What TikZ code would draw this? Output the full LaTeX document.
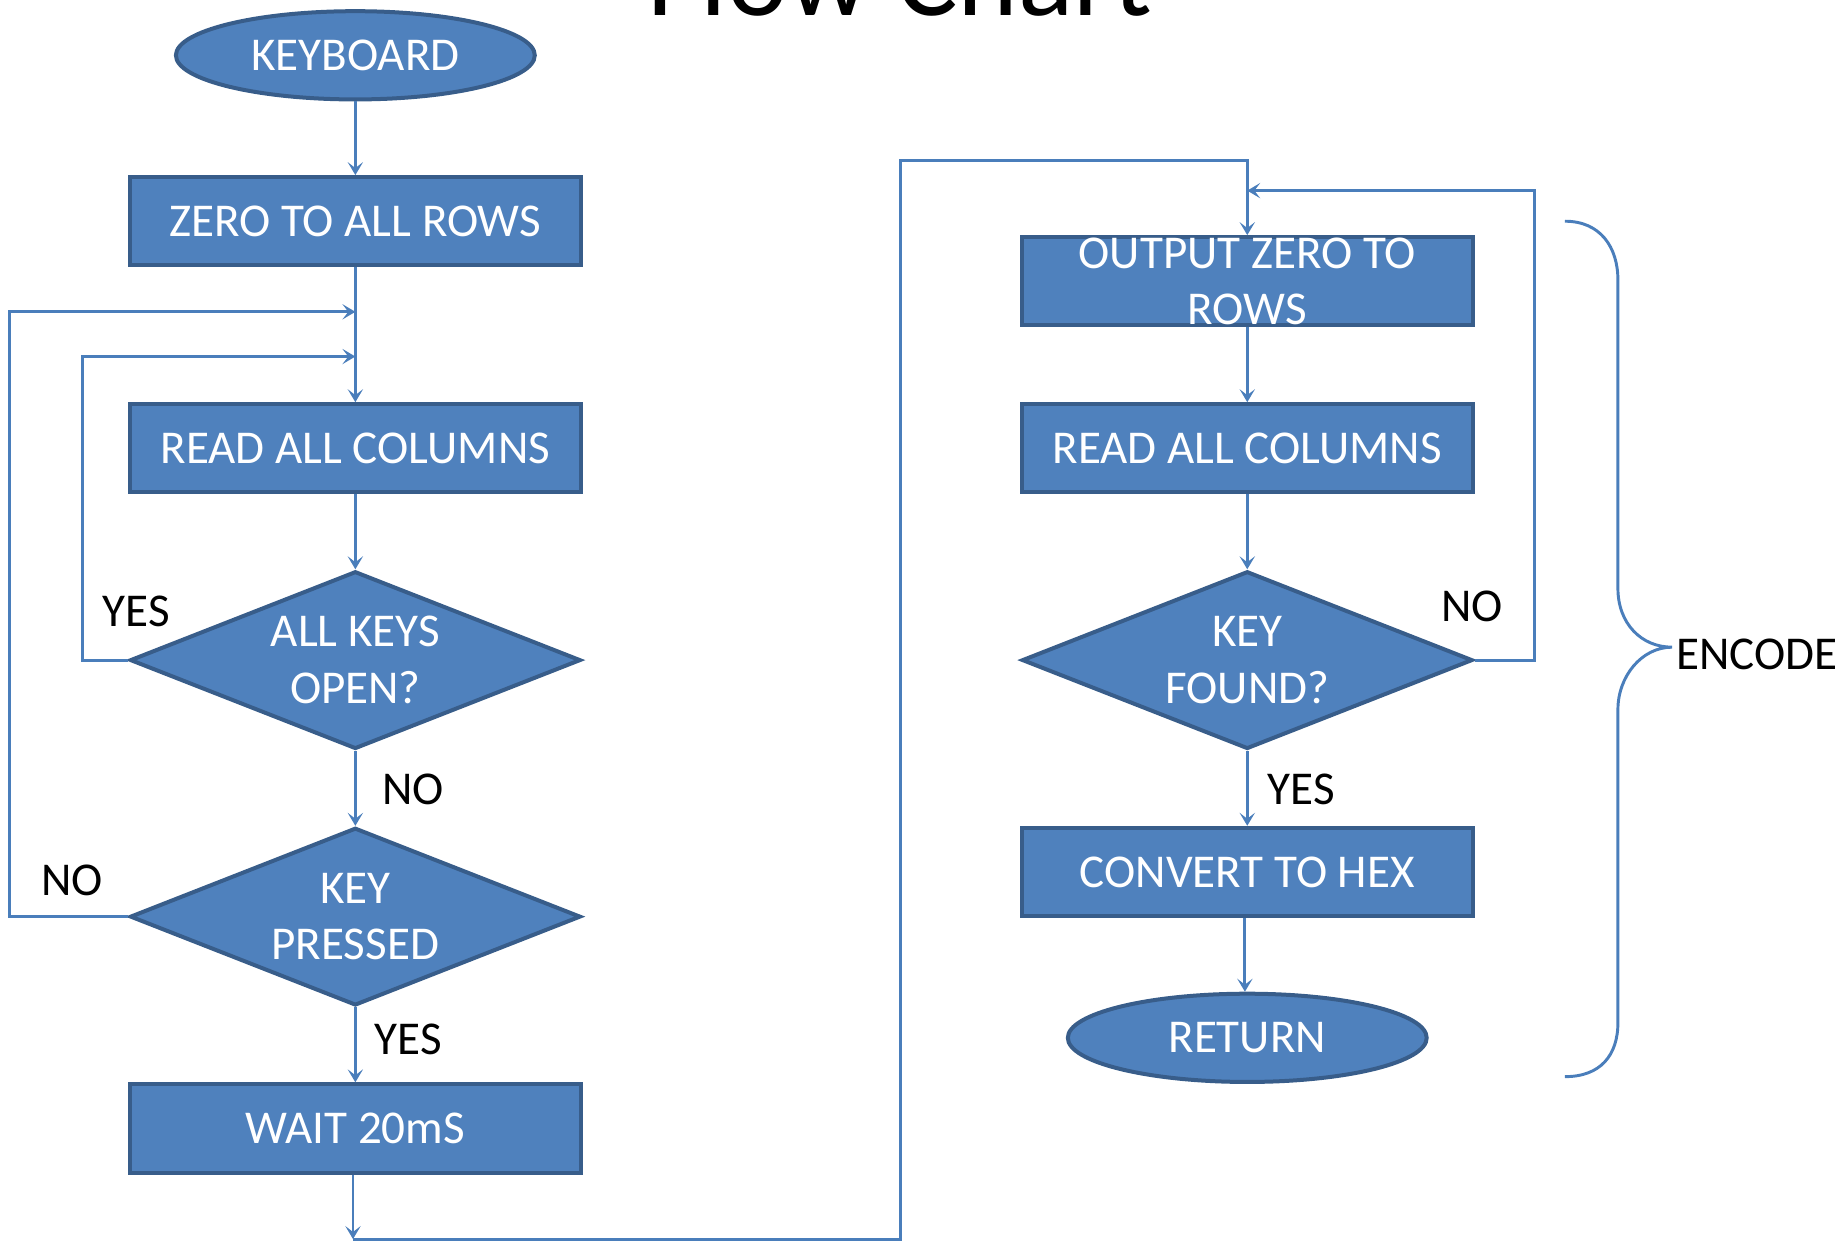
\documentclass[tikz,border=0pt]{standalone}
\usepackage{fontspec}
\setmainfont{Carlito}
\usetikzlibrary{shapes.geometric,arrows.meta}
\definecolor{boxfill}{HTML}{4F81BD}
\definecolor{boxedge}{HTML}{385D8A}
\definecolor{wire}{HTML}{4A7EBB}

\begin{document}
\begin{tikzpicture}[x=0.5pt,y=-0.5pt,
  shapebase/.style={fill=boxfill, draw=boxedge, line width=1.7pt, text=white,
    font=\fontsize{20}{24}\selectfont, inner sep=0pt, align=center},
  procbox/.style={shapebase, rectangle, minimum width=191.5pt, minimum height=37.5pt},
  decision/.style={shapebase, diamond, aspect=2.5, minimum width=191.5pt, minimum height=75.5pt},
  terminal/.style={shapebase, ellipse, minimum width=152.5pt, minimum height=37.5pt},
  wireline/.style={draw=wire, line width=1.25pt},
  arrowline/.style={wireline, -{Stealth[length=5.5pt,width=6.5pt,inset=2.5pt]}},
  lbl/.style={text=black, font=\fontsize{20}{24}\selectfont, inner sep=0pt},
]
\useasboundingbox (0,0) rectangle (1568,1055.5);
\clip (0,0) rectangle (1568,1055.5);

% title, partly above the page edge
\node[font=\fontsize{49}{50}\selectfont, anchor=base, inner sep=0pt] (title) at (765,13) {Flow Chart};

% left column: key scan
\node[terminal] (kb) at (302,47) {KEYBOARD};
\node[procbox] (zero) at (302,188) {ZERO TO ALL ROWS};
\node[procbox] (readL) at (302,381) {READ ALL COLUMNS};
\node[decision] (open) at (302,561) {ALL KEYS\\OPEN?};
\node[decision] (press) at (302,779) {KEY\\PRESSED};
\node[procbox] (wait) at (302,959) {WAIT 20mS};

% right column: encode
\node[procbox] (out) at (1060,239) {};
\node[text=white, font=\fontsize{20}{24}\selectfont, inner sep=0pt, align=center] (outtxt) at (out.center) {OUTPUT ZERO TO\\ROWS};
\node[procbox] (readR) at (1060,381) {READ ALL COLUMNS};
\node[decision] (found) at (1060,561) {KEY\\FOUND?};
\node[procbox] (hex) at (1060,741) {CONVERT TO HEX};
\node[terminal] (ret) at (1060,882) {RETURN};

% junction and corner points
\coordinate (j1) at (302,265);
\coordinate (j2) at (302,303);
\coordinate (l1) at (8,779);
\coordinate (l2) at (8,265);
\coordinate (l3) at (70,561);
\coordinate (l4) at (70,303);
\coordinate (b1) at (300,1053);
\coordinate (b2) at (765,1053);
\coordinate (b3) at (765,136);
\coordinate (b4) at (1060,136);
\coordinate (r1) at (1304,561);
\coordinate (r2) at (1304,162);
\coordinate (r3) at (1060,162);

% left column connectors
\draw[arrowline] (kb) -- (zero);
\draw[arrowline] (zero) -- (readL);
\draw[arrowline] (readL) -- (open);
\draw[arrowline] (open) -- (press);
\draw[arrowline] (press) -- (wait);
\draw[arrowline] (open.west) -- (l3) -- (l4) -- (j2);
\draw[arrowline] (press.west) -- (l1) -- (l2) -- (j1);
\draw[arrowline] (wait.south -| b1) -- (b1);
\draw[arrowline] (b1) -- (b2) -- (b3) -- (b4) -- (out.north);

% right column connectors
\draw[arrowline] (out) -- (readR);
\draw[arrowline] (readR) -- (found);
\draw[arrowline] (found) -- (hex);
\draw[arrowline] (hex.south -| 1058,0) -- (ret.north -| 1058,0);
\draw[arrowline] (found.east) -- (r1) -- (r2) -- (r3);

% branch labels
\node[lbl] (yes1) at (116,520) {YES};
\node[lbl] (no1) at (351,671) {NO};
\node[lbl] (no2) at (61,748) {NO};
\node[lbl] (yes2) at (347,883) {YES};
\node[lbl] (no3) at (1251,515) {NO};
\node[lbl] (yes3) at (1106,671) {YES};

% brace grouping the encode routine
\draw[wireline] (1330,188) .. controls (1360,188) and (1375,210) .. (1375,238)
  -- (1375,500) .. controls (1375,530) and (1395,550) .. (1421,550)
  .. controls (1395,550) and (1375,575) .. (1375,603)
  -- (1375,869) .. controls (1375,897) and (1360,915) .. (1330,915);
\coordinate (tip) at (1421,550);
\node[lbl, anchor=west] (enc) at (1424,556) {ENCODE};
\end{tikzpicture}
\end{document}
